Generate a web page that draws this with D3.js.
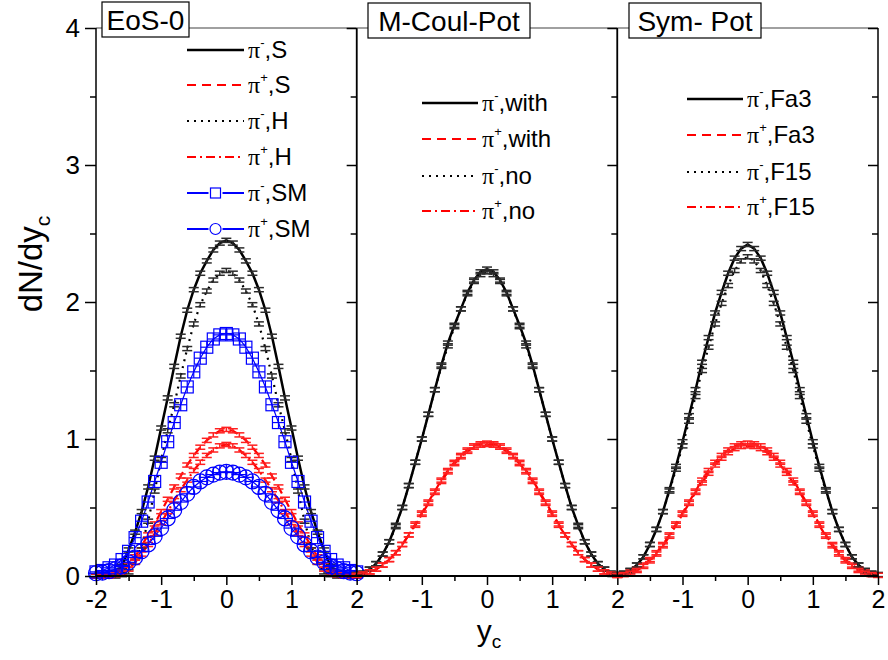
<!DOCTYPE html>
<html>
<head>
<meta charset="utf-8">
<script src="https://cdn.jsdelivr.net/npm/d3@7"></script>
<style>
  body { margin: 0; background: #fff; }
  svg { display: block; }
</style>
</head>
<body>
<svg id="chart" width="888" height="660"></svg>
<script>
// rapidity grid (x values)
const yc = [-2.0,-1.9,-1.8,-1.7,-1.6,-1.5,-1.4,-1.3,-1.2,-1.1,-1.0,-0.9,-0.8,-0.7,-0.6,-0.5,-0.4,-0.3,-0.2,-0.1,0.0,
            0.1,0.2,0.3,0.4,0.5,0.6,0.7,0.8,0.9,1.0,1.1,1.2,1.3,1.4,1.5,1.6,1.7,1.8,1.9,2.0];

// panel 1: EoS-0
const eosPimS  = [0.00,0.00,0.00,0.02,0.07,0.19,0.32,0.47,0.65,0.86,1.08,1.30,1.53,1.75,1.94,2.09,2.21,2.30,2.38,2.43,2.45,
                  2.43,2.38,2.30,2.21,2.09,1.94,1.75,1.53,1.30,1.08,0.86,0.65,0.47,0.32,0.19,0.07,0.02,0.00,0.00,0.00];
const eosPipS  = [0.00,0.00,0.00,0.01,0.03,0.08,0.14,0.22,0.30,0.38,0.47,0.56,0.65,0.73,0.81,0.88,0.94,0.99,1.03,1.06,1.07,
                  1.06,1.03,0.99,0.94,0.88,0.81,0.73,0.65,0.56,0.47,0.38,0.30,0.22,0.14,0.08,0.03,0.01,0.00,0.00,0.00];
const eosPimH  = [0.00,0.00,0.00,0.00,0.01,0.03,0.10,0.22,0.40,0.62,0.85,1.06,1.25,1.46,1.66,1.84,1.98,2.08,2.16,2.21,2.23,
                  2.21,2.16,2.08,1.98,1.84,1.66,1.46,1.25,1.06,0.85,0.62,0.40,0.22,0.10,0.03,0.01,0.00,0.00,0.00,0.00];
const eosPipH  = [0.00,0.00,0.00,0.01,0.02,0.05,0.10,0.16,0.23,0.31,0.39,0.47,0.55,0.63,0.70,0.77,0.83,0.88,0.92,0.95,0.96,
                  0.95,0.92,0.88,0.83,0.77,0.70,0.63,0.55,0.47,0.39,0.31,0.23,0.16,0.10,0.05,0.02,0.01,0.00,0.00,0.00];
const eosPimSM = [0.03,0.04,0.06,0.08,0.12,0.18,0.28,0.40,0.54,0.69,0.83,0.98,1.12,1.25,1.38,1.49,1.59,1.67,1.73,1.76,1.77,
                  1.76,1.73,1.67,1.59,1.49,1.38,1.25,1.12,0.98,0.83,0.69,0.54,0.40,0.28,0.18,0.12,0.08,0.06,0.04,0.03];
const eosPipSM = [0.02,0.025,0.035,0.05,0.07,0.10,0.135,0.18,0.23,0.29,0.35,0.42,0.48,0.54,0.60,0.65,0.69,0.72,0.74,0.755,0.76,
                  0.755,0.74,0.72,0.69,0.65,0.60,0.54,0.48,0.42,0.35,0.29,0.23,0.18,0.135,0.10,0.07,0.05,0.035,0.025,0.02];

// panel 2: M-Coul-Pot
const coulPimWith = [0.01,0.02,0.05,0.09,0.16,0.25,0.37,0.50,0.66,0.83,1.00,1.18,1.36,1.54,1.70,1.83,1.95,2.07,2.16,2.22,2.24,
                     2.22,2.16,2.07,1.95,1.83,1.70,1.54,1.36,1.18,1.00,0.83,0.66,0.50,0.37,0.25,0.16,0.09,0.05,0.02,0.01];
const coulPipWith = [0.005,0.015,0.03,0.05,0.08,0.12,0.17,0.23,0.30,0.38,0.46,0.54,0.62,0.70,0.77,0.83,0.88,0.92,0.95,0.965,0.97,
                     0.965,0.95,0.92,0.88,0.83,0.77,0.70,0.62,0.54,0.46,0.38,0.30,0.23,0.17,0.12,0.08,0.05,0.03,0.015,0.005];
const coulPimNo   = [0.01,0.02,0.05,0.09,0.16,0.25,0.36,0.50,0.66,0.83,1.00,1.18,1.36,1.53,1.68,1.82,1.95,2.06,2.15,2.20,2.22,
                     2.20,2.15,2.06,1.95,1.82,1.68,1.53,1.36,1.18,1.00,0.83,0.66,0.50,0.36,0.25,0.16,0.09,0.05,0.02,0.01];
const coulPipNo   = [0.005,0.015,0.03,0.05,0.08,0.12,0.17,0.23,0.30,0.37,0.45,0.53,0.61,0.69,0.76,0.82,0.87,0.91,0.94,0.955,0.96,
                     0.955,0.94,0.91,0.87,0.82,0.76,0.69,0.61,0.53,0.45,0.37,0.30,0.23,0.17,0.12,0.08,0.05,0.03,0.015,0.005];

// panel 3: Sym- Pot
const symPimFa3 = [0.01,0.02,0.04,0.08,0.14,0.23,0.34,0.47,0.63,0.80,0.98,1.17,1.36,1.56,1.74,1.92,2.07,2.21,2.32,2.39,2.42,
                   2.39,2.32,2.21,2.07,1.92,1.74,1.56,1.36,1.17,0.98,0.80,0.63,0.47,0.34,0.23,0.14,0.08,0.04,0.02,0.01];
const symPipFa3 = [0.005,0.015,0.03,0.05,0.08,0.12,0.17,0.23,0.30,0.38,0.46,0.54,0.62,0.70,0.77,0.83,0.88,0.92,0.95,0.965,0.97,
                   0.965,0.95,0.92,0.88,0.83,0.77,0.70,0.62,0.54,0.46,0.38,0.30,0.23,0.17,0.12,0.08,0.05,0.03,0.015,0.005];
const symPimF15 = [0.01,0.02,0.04,0.08,0.14,0.23,0.34,0.47,0.62,0.78,0.95,1.13,1.31,1.50,1.67,1.84,1.99,2.12,2.23,2.30,2.33,
                   2.30,2.23,2.12,1.99,1.84,1.67,1.50,1.31,1.13,0.95,0.78,0.62,0.47,0.34,0.23,0.14,0.08,0.04,0.02,0.01];
const symPipF15 = [0.005,0.01,0.02,0.04,0.07,0.11,0.16,0.22,0.29,0.37,0.45,0.53,0.61,0.68,0.75,0.81,0.86,0.90,0.93,0.945,0.95,
                   0.945,0.93,0.90,0.86,0.81,0.75,0.68,0.61,0.53,0.45,0.37,0.29,0.22,0.16,0.11,0.07,0.04,0.02,0.01,0.005];

// statistical error on each point
const errBar = 0.015;

const panelTitles = ['EoS-0', 'M-Coul-Pot', 'Sym- Pot'];
const xMajor = [-2, -1, 0, 1, 2];
const xMinor = [-1.5, -0.5, 0.5, 1.5];
const yMajor = [0, 1, 2, 3, 4];
const yMinor = [0.5, 1.5, 2.5, 3.5];

// line styles
const SOLID = { color: '#000', dash: null, width: 2.5, err: true };
const DASH = { color: '#ff0000', dash: '9,6', width: 2.2, err: true };
const DOT = { color: '#000', dash: '2,5', width: 2.2, err: true };
const DASHDOT = { color: '#ff0000', dash: '9,4,2,4', width: 2.2, err: true };
const SQUARE = { color: '#0000ff', dash: null, width: 1.2, err: false, marker: 'square' };
const CIRCLE = { color: '#0000ff', dash: null, width: 1.2, err: false, marker: 'circle' };

const panels = [
  {
    title: panelTitles[0],
    box: { x: 102, y: 2, w: 87, h: 35 },
    legend: { x0: 187, x1: 244, tx: 248, rows: [50, 85, 121, 157, 193, 229] },
    series: [
      { vals: eosPimS, style: SOLID, sign: '-', name: ',S' },
      { vals: eosPipS, style: DASH, sign: '+', name: ',S' },
      { vals: eosPimH, style: DOT, sign: '-', name: ',H' },
      { vals: eosPipH, style: DASHDOT, sign: '+', name: ',H' },
      { vals: eosPimSM, style: SQUARE, sign: '-', name: ',SM' },
      { vals: eosPipSM, style: CIRCLE, sign: '+', name: ',SM' }
    ]
  },
  {
    title: panelTitles[1],
    box: { x: 368, y: 3, w: 162, h: 35 },
    legend: { x0: 422, x1: 478, tx: 482, rows: [103, 139, 176, 211] },
    series: [
      { vals: coulPimWith, style: SOLID, sign: '-', name: ',with' },
      { vals: coulPipWith, style: DASH, sign: '+', name: ',with' },
      { vals: coulPimNo, style: DOT, sign: '-', name: ',no' },
      { vals: coulPipNo, style: DASHDOT, sign: '+', name: ',no' }
    ]
  },
  {
    title: panelTitles[2],
    box: { x: 629, y: 3, w: 132, h: 35 },
    legend: { x0: 687, x1: 743, tx: 747, rows: [99, 135, 172, 207] },
    series: [
      { vals: symPimFa3, style: SOLID, sign: '-', name: ',Fa3' },
      { vals: symPipFa3, style: DASH, sign: '+', name: ',Fa3' },
      { vals: symPimF15, style: DOT, sign: '-', name: ',F15' },
      { vals: symPipF15, style: DASHDOT, sign: '+', name: ',F15' }
    ]
  }
];

const svg = d3.select('#chart');
const plotLeft = 96, plotRight = 878, plotTop = 28, plotBottom = 576;
const pw = (plotRight - plotLeft) / 3;
const FONT = "'Liberation Sans', Arial, sans-serif";
const SERIF = "'Liberation Serif', 'Times New Roman', serif";

const y = d3.scaleLinear().domain([0, 4]).range([plotBottom, plotTop]);

function drawMarker(g, kind, cx, cy, color) {
  const h = kind === 'square' ? 6 : 7.5;
  if (kind === 'square') {
    g.append('rect')
      .attr('x', cx - h).attr('y', cy - h)
      .attr('width', 2 * h).attr('height', 2 * h)
      .attr('fill', 'none').attr('stroke', color).attr('stroke-width', 1.2);
  } else {
    g.append('circle')
      .attr('cx', cx).attr('cy', cy).attr('r', h)
      .attr('fill', 'none').attr('stroke', color).attr('stroke-width', 1.2);
  }
  g.append('line').attr('x1', cx).attr('x2', cx).attr('y1', cy - h).attr('y2', cy + h)
    .attr('stroke', color).attr('stroke-width', 1.2);
  g.append('line').attr('x1', cx - h).attr('x2', cx + h).attr('y1', cy).attr('y2', cy)
    .attr('stroke', color).attr('stroke-width', 1.2);
}

function piLabel(g, x, yPos, sign, name) {
  const t = g.append('text')
    .attr('x', x).attr('y', yPos + 8)
    .attr('font-family', FONT).attr('font-size', 24).attr('fill', '#000');
  t.append('tspan').attr('font-family', SERIF).text('π');
  t.append('tspan').attr('font-size', 13).attr('dy', -11).text(sign);
  t.append('tspan').attr('dy', 11).text(name);
}

panels.forEach((p, i) => {
  const x0 = plotLeft + i * pw;
  const x = d3.scaleLinear().domain([-2, 2]).range([x0, x0 + pw]);
  const g = svg.append('g').attr('class', 'panel');

  // top frame (grey)
  g.append('line')
    .attr('x1', x0).attr('x2', x0 + pw).attr('y1', plotTop).attr('y2', plotTop)
    .attr('stroke', '#808080').attr('stroke-width', 1.5);

  // curves
  const line = d3.line().x((d, k) => x(yc[k])).y(d => y(d));
  p.series.forEach(s => {
    g.append('path')
      .datum(s.vals)
      .attr('d', line)
      .attr('fill', 'none')
      .attr('stroke', s.style.color)
      .attr('stroke-width', s.style.width)
      .attr('stroke-dasharray', s.style.dash);
  });

  // error bars
  p.series.filter(s => s.style.err).forEach(s => {
    const col = s.style.color === '#000' ? '#2a2a2a' : '#ff2020';
    const eb = g.append('g').attr('stroke', col).attr('stroke-width', 1.5);
    s.vals.forEach((v, k) => {
      const cx = x(yc[k]);
      eb.append('line').attr('x1', cx).attr('x2', cx).attr('y1', y(v - errBar)).attr('y2', y(v + errBar));
      eb.append('line').attr('x1', cx - 5).attr('x2', cx + 5).attr('y1', y(v - errBar)).attr('y2', y(v - errBar));
      eb.append('line').attr('x1', cx - 5).attr('x2', cx + 5).attr('y1', y(v + errBar)).attr('y2', y(v + errBar));
    });
  });

  // markers
  p.series.filter(s => s.style.marker).forEach(s => {
    const mg = g.append('g');
    s.vals.forEach((v, k) => drawMarker(mg, s.style.marker, x(yc[k]), y(v), s.style.color));
  });

  // bottom axis
  g.append('g')
    .attr('transform', `translate(0,${plotBottom})`)
    .call(d3.axisBottom(x).tickValues(i === 0 ? xMajor : xMajor.slice(1)).tickSize(9).tickPadding(5)
      .tickFormat(d => d3.format('d')(d).replace('−', '-')))
    .call(a => a.select('.domain').remove())
    .call(a => a.selectAll('line').attr('stroke', '#000').attr('stroke-width', 1.5))
    .call(a => a.selectAll('text').attr('font-family', FONT).attr('font-size', 25).attr('fill', '#000'));
  g.append('g')
    .attr('transform', `translate(0,${plotBottom})`)
    .call(d3.axisBottom(x).tickValues(xMinor).tickSize(5).tickFormat(''))
    .call(a => a.select('.domain').remove())
    .call(a => a.selectAll('line').attr('stroke', '#000').attr('stroke-width', 1.5));

  // inward ticks at the panel's right edge
  g.append('g')
    .attr('transform', `translate(${x0 + pw},0)`)
    .call(d3.axisLeft(y).tickValues(yMajor).tickSize(10).tickFormat(''))
    .call(a => a.select('.domain').remove())
    .call(a => a.selectAll('line').attr('stroke', '#000').attr('stroke-width', 1.5));
  g.append('g')
    .attr('transform', `translate(${x0 + pw},0)`)
    .call(d3.axisLeft(y).tickValues(yMinor).tickSize(6).tickFormat(''))
    .call(a => a.select('.domain').remove())
    .call(a => a.selectAll('line').attr('stroke', '#000').attr('stroke-width', 1.5));

  // vertical frame lines
  g.append('line')
    .attr('x1', x0).attr('x2', x0).attr('y1', plotTop).attr('y2', plotBottom)
    .attr('stroke', '#000').attr('stroke-width', 1.5);
  g.append('line')
    .attr('x1', x0 + pw).attr('x2', x0 + pw).attr('y1', plotTop).attr('y2', plotBottom)
    .attr('stroke', '#000').attr('stroke-width', 1.5);

  // title box
  g.append('rect')
    .attr('x', p.box.x).attr('y', p.box.y).attr('width', p.box.w).attr('height', p.box.h)
    .attr('fill', '#fff').attr('stroke', '#000').attr('stroke-width', 1.2);
  g.append('text')
    .attr('x', p.box.x + p.box.w / 2).attr('y', p.box.y + p.box.h / 2 + 10)
    .attr('text-anchor', 'middle')
    .attr('font-family', FONT).attr('font-size', 28).attr('fill', '#000')
    .text(p.title);

  // legend
  p.series.forEach((s, k) => {
    const ly = p.legend.rows[k];
    g.append('line')
      .attr('x1', p.legend.x0).attr('x2', p.legend.x1).attr('y1', ly).attr('y2', ly)
      .attr('stroke', s.style.color)
      .attr('stroke-width', s.style.marker ? 2 : s.style.width)
      .attr('stroke-dasharray', s.style.dash);
    if (s.style.marker) {
      const cx = (p.legend.x0 + p.legend.x1) / 2;
      g.append('rect').attr('x', cx - 7).attr('y', ly - 7).attr('width', 14).attr('height', 14).attr('fill', '#fff');
      if (s.style.marker === 'square') {
        g.append('rect').attr('x', cx - 5).attr('y', ly - 5).attr('width', 10).attr('height', 10)
          .attr('fill', 'none').attr('stroke', s.style.color).attr('stroke-width', 1.2);
      } else {
        g.append('circle').attr('cx', cx).attr('cy', ly).attr('r', 5.5)
          .attr('fill', 'none').attr('stroke', s.style.color).attr('stroke-width', 1.2);
      }
    }
    piLabel(g, p.legend.tx, ly, s.sign, s.name);
  });
});

// bottom axis line
svg.append('line')
  .attr('x1', plotLeft).attr('x2', plotRight).attr('y1', plotBottom).attr('y2', plotBottom)
  .attr('stroke', '#000').attr('stroke-width', 2);

// left y axis
svg.append('g')
  .attr('transform', `translate(${plotLeft},0)`)
  .call(d3.axisLeft(y).tickValues(yMajor).tickSize(11).tickPadding(5).tickFormat(d3.format('d')))
  .call(a => a.select('.domain').remove())
  .call(a => a.selectAll('line').attr('stroke', '#000').attr('stroke-width', 1.5))
  .call(a => a.selectAll('text').attr('font-family', FONT).attr('font-size', 26).attr('fill', '#000'));
svg.append('g')
  .attr('transform', `translate(${plotLeft},0)`)
  .call(d3.axisLeft(y).tickValues(yMinor).tickSize(6).tickFormat(''))
  .call(a => a.select('.domain').remove())
  .call(a => a.selectAll('line').attr('stroke', '#000').attr('stroke-width', 1.5));

// axis titles
const yt = svg.append('text')
  .attr('transform', 'translate(42,264) rotate(-90)')
  .attr('text-anchor', 'middle')
  .attr('font-family', FONT).attr('font-size', 33).attr('fill', '#000');
yt.append('tspan').text('dN/dy');
yt.append('tspan').attr('font-size', 21).attr('dy', 8).text('c');

const xt = svg.append('text')
  .attr('x', 489).attr('y', 641)
  .attr('text-anchor', 'middle')
  .attr('font-family', FONT).attr('font-size', 30).attr('fill', '#000');
xt.append('tspan').text('y');
xt.append('tspan').attr('font-size', 19).attr('dy', 7).text('c');
</script>
</body>
</html>
